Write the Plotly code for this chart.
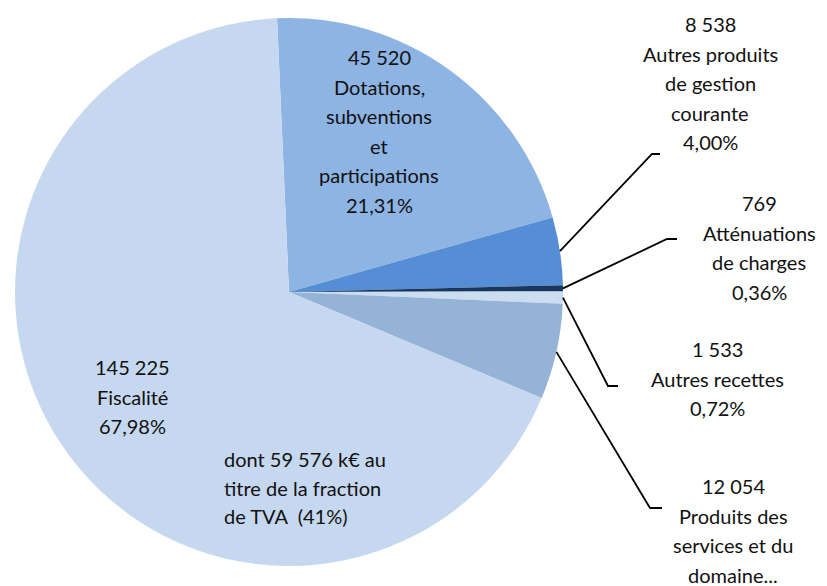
import math

import plotly.graph_objects as go

W, H = 827, 586

# données (k€), dans l'ordre des secteurs, sens horaire depuis midi
categories = [
    "Dotations, subventions et participations",
    "Autres produits de gestion courante",
    "Atténuations de charges",
    "Autres recettes",
    "Produits des services et du domaine",
    "Fiscalité",
]
values = [45520, 8538, 769, 1533, 12054, 145225]
label_lines = [
    ["Dotations,", "subventions", "et", "participations"],
    ["Autres produits", "de gestion", "courante"],
    ["Atténuations", "de charges"],
    ["Autres recettes"],
    ["Produits des", "services et du", "domaine..."],
    ["Fiscalité"],
]
show_pct = [True, True, True, True, False, True]   # le dernier libellé est tronqué
tva_fraction = 59576   # dont fraction de TVA dans la fiscalité

colors = ["#8EB4E3", "#558ED5", "#17375E", "#CCDCF1", "#95B3D7", "#C6D8EF"]

# géométrie du camembert (pixels)
CX, CY, R = 289, 292, 274
ROTATION = -2.5
LINE_H = 29.6
FONT = dict(family="Lato, Calibri, sans-serif", size=20, color="#111111")

# position des blocs de texte: centre x, y de la 1re ligne
label_pos = [(379, 57), (710, 24), (759, 203), (717, 349), (733, 486), (132, 367)]
# lignes de rappel: coude (x, y) puis fin du trait horizontal
leader_elbow = [None, (652, 154, 660), (667, 239, 677), (608, 386, 618), (650, 508, 662), None]


def fr_int(v):
    return f"{v:,}".replace(",", "\u202f")


def fr_pct(p, nd=2):
    return f"{p:.{nd}f}".replace(".", ",") + "%"


def px(x, y):
    return x / W, 1 - y / H


total = sum(values)

fig = go.Figure(
    go.Pie(
        labels=categories, values=values, sort=False, direction="clockwise",
        rotation=ROTATION, textinfo="none",
        marker=dict(colors=colors, line=dict(width=0)),
        domain=dict(x=[(CX - R) / W, (CX + R) / W], y=[1 - (CY + R) / H, 1 - (CY - R) / H]),
        hovertemplate="%{label}<br>%{value} k€ (%{percent})<extra></extra>",
    )
)

annotations = []
shapes = []
cum = 0
for i, v in enumerate(values):
    lines = [fr_int(v)] + label_lines[i]
    if show_pct[i]:
        lines.append(fr_pct(100 * v / total))
    x0, y0 = label_pos[i]
    for k, t in enumerate(lines):
        ax, ay = px(x0, y0 + k * LINE_H)
        annotations.append(dict(x=ax, y=ay, xref="paper", yref="paper", text=t,
                                showarrow=False, xanchor="center", yanchor="middle", font=FONT))

    # trait de rappel depuis le milieu du secteur
    mid = math.radians(ROTATION + 360 * (cum + v / 2) / total)
    cum += v
    if leader_elbow[i]:
        ex, ey = CX + R * math.sin(mid), CY - R * math.cos(mid)
        bx, by, hx = leader_elbow[i]
        p0, p1, p2 = px(ex, ey), px(bx, by), px(hx, by)
        shapes.append(dict(type="path", xref="paper", yref="paper",
                           path=f"M{p0[0]},{p0[1]} L{p1[0]},{p1[1]} L{p2[0]},{p2[1]}",
                           line=dict(color="black", width=1.8)))

# note sous la fiscalité
note = [f"dont {fr_int(tva_fraction)} k€ au", "titre de la fraction",
        f"de TVA \u00a0({100 * tva_fraction / values[-1]:.0f}%)"]
for k, t in enumerate(note):
    ax, ay = px(222, 459 + k * 28.5)
    annotations.append(dict(x=ax, y=ay, xref="paper", yref="paper", text=t, showarrow=False,
                            xanchor="left", yanchor="middle", font=FONT))

fig.update_layout(
    width=W, height=H, margin=dict(l=0, r=0, t=0, b=0),
    paper_bgcolor="white", plot_bgcolor="white", showlegend=False,
    annotations=annotations, shapes=shapes,
)
# pas de marge autour du graphique dans la page, pas de barre d'outils
fig.write_html("out.html", config={"displayModeBar": False},
               post_script="document.body.style.margin = '0';")
